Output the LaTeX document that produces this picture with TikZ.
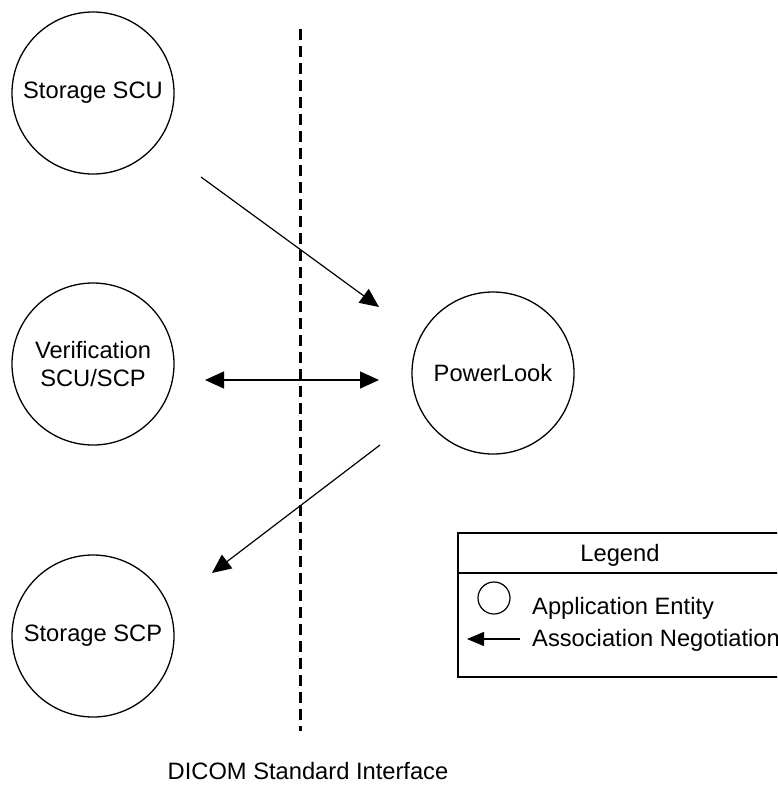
\documentclass[tikz,border=0pt]{standalone}
\usepackage{fontspec}
\setmainfont{Liberation Sans}
\usetikzlibrary{arrows.meta}
\tikzset{
  ae/.style={draw, circle, line width=1.3pt, minimum size=162pt, inner sep=0pt, align=center, font=\fontsize{23.7}{28.4}\selectfont},
  lbl/.style={inner sep=0pt, font=\fontsize{23.7}{28.4}\selectfont},
  assoc/.style={line width=1.2pt, -{Triangle[length=19pt,width=17pt]}},
  assocboth/.style={line width=1.2pt, {Triangle[length=19pt,width=17pt]}-{Triangle[length=19pt,width=17pt]}},
  iface/.style={line width=2.5pt, dash pattern=on 11pt off 6pt},
  legbox/.style={draw, line width=1.3pt}
}
\begin{document}
\begin{tikzpicture}[x=1pt,y=-1pt]
\useasboundingbox (0,0) rectangle (777,785);
\clip (0,0) rectangle (777,785);
\fill[white] (0,0) rectangle (777,785);
% interface line
\coordinate (dtop) at (300.5,29);
\coordinate (dbot) at (300.5,731);
\draw[iface] (dtop) -- (dbot);
\node[lbl, anchor=base] (dicom) at (308,779) {DICOM Standard Interface};
% application entities
\node[ae] (scu) at (93,93) {Storage SCU};
\node[ae] (ver) at (93,364) {Verification\\SCU/SCP};
\node[ae] (pl) at (493,373) {PowerLook};
\node[ae] (scp) at (93,636) {Storage SCP};
% association ends
\coordinate (a1s) at (201,177);
\coordinate (a1e) at (379,307);
\coordinate (a2s) at (205,380);
\coordinate (a2e) at (379,380);
\coordinate (a3s) at (380,445);
\coordinate (a3e) at (212,573);
\draw[assoc] (a1s) -- (a1e);
\draw[assocboth] (a2s) -- (a2e);
\draw[assoc] (a3s) -- (a3e);
% legend
\coordinate (lgtl) at (458,533);
\coordinate (lgbr) at (800,677);
\draw[legbox] (lgtl) rectangle (lgbr);
\coordinate (lgdl) at (458,573);
\coordinate (lgdr) at (800,573);
\draw[legbox] (lgdl) -- (lgdr);
\node[lbl, anchor=base] (legend) at (620,561.5) {Legend};
\node[draw, circle, line width=1.2pt, minimum size=32pt, inner sep=0pt] (legc) at (494,598) {};
\node[lbl, anchor=base west] (legae) at (532,614) {Application Entity};
\coordinate (lgas) at (520,639);
\coordinate (lgae) at (467,639);
\draw[line width=1.2pt, -{Triangle[length=17pt,width=14pt]}] (lgas) -- (lgae);
\node[lbl, anchor=base west] (legan) at (532,646) {Association Negotiation};
\end{tikzpicture}
\end{document}
